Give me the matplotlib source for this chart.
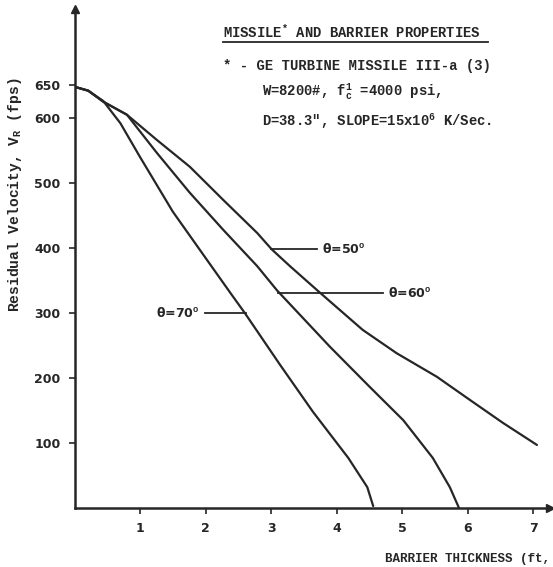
"""
Residual velocity vs. barrier thickness for the GE turbine missile III-a,
three impact angles. Values read off a scanned figure.
"""
import matplotlib

matplotlib.use("Agg")
import matplotlib.pyplot as plt
from matplotlib.lines import Line2D

# --------------------------------------------------------------------------- #
# Data
# --------------------------------------------------------------------------- #
thick_70 = [0, 0.21, 0.44, 0.70, 1.00, 1.50, 2.02, 2.40, 2.60, 3.14, 3.64, 4.18, 4.47, 4.56]
vel_70 = [648, 642, 626, 592, 540, 456, 382, 328, 300, 220, 148, 77, 32, 3]

thick_60 = [0, 0.21, 0.44, 0.80, 1.26, 1.76, 2.27, 2.79, 3.09, 3.90, 4.51, 5.02, 5.47, 5.73, 5.87]
vel_60 = [648, 642, 625, 605, 546, 485, 428, 372, 335, 248, 186, 135, 77, 32, 0]

thick_50 = [0, 0.21, 0.44, 0.80, 1.26, 1.76, 2.27, 2.79, 3.01, 3.29, 3.75, 4.40, 4.92,
            5.53, 6.04, 6.54, 7.06]
vel_50 = [648, 642, 625, 605, 566, 525, 474, 423, 398, 372, 331, 274, 238, 202, 166, 131, 97]

x_ticks = [1, 2, 3, 4, 5, 6, 7]
y_ticks = [100, 200, 300, 400, 500, 600, 650]

# label text, leader line (x0, x1, y) in data units
labels = [
    (r"θ=50$^{\mathrm{o}}$", (3.00, 3.70, 398)),
    (r"θ=60$^{\mathrm{o}}$", (3.10, 4.71, 331)),
    (r"θ=70$^{\mathrm{o}}$", (1.99, 2.62, 300)),
]

INK = "#262626"
W, H = 553, 567
MONO = "Liberation Mono"

plt.rcParams["mathtext.fontset"] = "custom"
plt.rcParams["mathtext.rm"] = "Liberation Mono:bold"
plt.rcParams["mathtext.it"] = "Liberation Mono:bold"
plt.rcParams["mathtext.bf"] = "Liberation Mono:bold"


def fxy(px, py):
    """pixel position (from top-left) -> figure fraction"""
    return px / W, 1 - py / H


fig = plt.figure(figsize=(W / 100, H / 100), dpi=100)
ax = fig.add_axes([74.5 / W, 59 / H, 478.5 / W, 508 / H])
ax.set_xlim(0, 7.305)
ax.set_ylim(0, 781.5)

for s in ("top", "right"):
    ax.spines[s].set_visible(False)
for s in ("left", "bottom"):
    ax.spines[s].set_linewidth(1.8)
    ax.spines[s].set_color(INK)
ax.spines["left"].set_bounds(0, 760)
ax.spines["bottom"].set_bounds(0, 7.2)
ax.plot([0], [768], marker="^", ms=6, color=INK, clip_on=False)
ax.plot([7.26], [0], marker=">", ms=6, color=INK, clip_on=False)

ax.set_xticks(x_ticks)
ax.set_yticks(y_ticks)
ax.tick_params(direction="out", length=4, width=1.2, colors=INK, pad=6)
for lab in ax.get_xticklabels() + ax.get_yticklabels():
    lab.set_fontfamily("DejaVu Sans")
    lab.set_fontweight("bold")
    lab.set_fontsize(9)

for xs, ys in ((thick_70, vel_70), (thick_60, vel_60), (thick_50, vel_50)):
    ax.plot(xs, ys, color=INK, lw=1.6, solid_joinstyle="round", solid_capstyle="round")

for text, (x0, x1, yv) in labels:
    ax.plot([x0, x1], [yv, yv], color=INK, lw=1.3)
    if x0 > 2.8:
        ax.text(x1 + 0.08, yv, text, fontsize=9, fontweight="bold",
                family="DejaVu Sans", va="center", ha="left", color=INK)
    else:
        ax.text(x0 - 0.08, yv, text, fontsize=9, fontweight="bold",
                family="DejaVu Sans", va="center", ha="right", color=INK)

# axis titles
fig.text(*fxy(15, 195), r"Residual Velocity, V$_{\mathrm{R}}$ (fps)", rotation=90,
         family=MONO, fontweight="bold", fontsize=10.5, ha="center", va="center",
         color=INK)
fig.text(*fxy(385, 562), "BARRIER THICKNESS (ft,", family=MONO, fontweight="bold",
         fontsize=9, ha="left", va="baseline", color=INK)

# properties block
kw = dict(family=MONO, fontweight="bold", fontsize=10, ha="left", va="baseline",
          color=INK)
fig.text(*fxy(223, 38), r"MISSILE$^{\mathrm{*}}$ AND BARRIER PROPERTIES", **kw)
fig.add_artist(Line2D([223 / W, 488 / W], [1 - 42 / H, 1 - 42 / H], color=INK, lw=1.3))
fig.text(*fxy(223, 70), "* - GE TURBINE MISSILE III-a (3)", **kw)
fig.text(*fxy(262, 96), r"W=8200#, f$^{1}_{c}$ =4000 psi,", **kw)
fig.text(*fxy(262, 126), r'D=38.3", SLOPE=15x10$^{6}$ K/Sec.', **kw)

fig.savefig("out.png", dpi=100, facecolor="white")
